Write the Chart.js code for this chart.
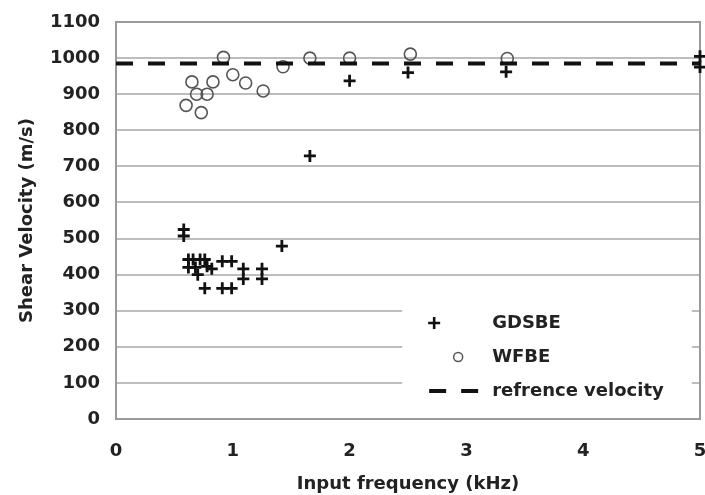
<!DOCTYPE html>
<html>
<head>
<meta charset="utf-8">
<script src="https://cdn.jsdelivr.net/npm/chart.js@4/dist/chart.umd.min.js"></script>
<style>
  html, body { margin: 0; padding: 0; background: #fff; }
  #wrap { width: 705px; height: 495px; position: relative; }
</style>
</head>
<body>
<div id="wrap"><canvas id="shearChart"></canvas></div>
<script>
// frequency (kHz) / shear velocity (m/s)
const gdsbeFreq = [0.58, 0.58, 0.62, 0.62, 0.66, 0.68, 0.70, 0.72, 0.76, 0.78, 0.82, 0.76, 0.91, 0.99, 0.91, 0.99, 1.09, 1.09, 1.25, 1.25, 1.42, 1.66, 2.00, 2.50, 3.34, 5.00, 5.00];
const gdsbeVel  = [525, 507, 442, 420, 442, 420, 400, 442, 442, 423, 416, 362, 437, 437, 362, 362, 416, 388, 416, 388, 479, 729, 937, 960, 962, 1005, 975];
const wfbeFreq = [0.60, 0.65, 0.69, 0.73, 0.78, 0.83, 0.92, 1.00, 1.11, 1.26, 1.43, 1.66, 2.00, 2.52, 3.35];
const wfbeVel  = [869, 934, 900, 849, 900, 934, 1002, 954, 931, 909, 976, 1000, 1000, 1011, 999];
const refFreq = [0, 5];
const refVel  = [985, 985];
const xTicks = [0, 1, 2, 3, 4, 5];
const seriesLabels = ['GDSBE', 'WFBE', 'refrence velocity'];

const FONT = 'DejaVu Sans';
const toPts = (xs, ys) => xs.map((x, i) => ({ x: x, y: ys[i] }));

// frame + legend box drawn on the canvas
const framePlugin = {
    id: 'frame',
    beforeDatasetsDraw(chart) {
        const a = chart.chartArea, c = chart.ctx;
        c.save();
        c.strokeStyle = '#9a9a9a';
        c.lineWidth = 2;
        c.strokeRect(a.left, a.top, a.right - a.left, a.bottom - a.top);
        c.restore();
    },
    afterDatasetsDraw(chart) {
        const c = chart.ctx, xs = chart.scales.x, ys = chart.scales.y;
        const bx = xs.getPixelForValue(2.45), by = ys.getPixelForValue(360);
        const bw = xs.getPixelForValue(4.93) - bx, bh = ys.getPixelForValue(25) - by;
        c.save();
        c.fillStyle = '#fff';
        c.fillRect(bx, by, bw, bh);
        const rows = [by + 34, by + 68, by + 102];
        const tx = bx + 90;
        // GDSBE cross
        c.strokeStyle = '#111'; c.lineWidth = 2.6;
        c.beginPath();
        c.moveTo(bx + 26, rows[0]); c.lineTo(bx + 38, rows[0]);
        c.moveTo(bx + 32, rows[0] - 6); c.lineTo(bx + 32, rows[0] + 6);
        c.stroke();
        // WFBE circle
        c.strokeStyle = '#555'; c.lineWidth = 1.5;
        c.beginPath(); c.arc(bx + 56, rows[1], 4.5, 0, Math.PI * 2); c.stroke();
        // dashed
        c.strokeStyle = '#111'; c.lineWidth = 4;
        c.setLineDash([17, 15]);
        c.beginPath(); c.moveTo(bx + 27, rows[2]); c.lineTo(bx + 78, rows[2]); c.stroke();
        c.setLineDash([]);
        c.fillStyle = '#222';
        c.font = 'bold 18px "' + FONT + '"';
        c.textBaseline = 'middle';
        seriesLabels.forEach((t, i) => c.fillText(t, tx, rows[i]));
        c.restore();
    }
};

new Chart(document.getElementById('shearChart'), {
    type: 'scatter',
    data: {
        datasets: [
            { label: seriesLabels[2], data: toPts(refFreq, refVel), showLine: true, borderColor: '#111', borderWidth: 4, borderDash: [17, 15], pointRadius: 0, clip: false },
            { label: seriesLabels[0], data: toPts(gdsbeFreq, gdsbeVel), pointStyle: 'cross', pointRadius: 6, borderColor: '#111', borderWidth: 2.8, clip: false },
            { label: seriesLabels[1], data: toPts(wfbeFreq, wfbeVel), pointStyle: 'circle', pointRadius: 6, borderColor: '#555', backgroundColor: 'rgba(255,255,255,0)', borderWidth: 1.6, clip: false }
        ]
    },
    options: {
        responsive: true,
        maintainAspectRatio: false,
        animation: false,
        layout: { autoPadding: false, padding: { top: 22, right: 5, left: 0, bottom: 0 } },
        plugins: { legend: { display: false }, tooltip: { enabled: false } },
        scales: {
            x: {
                type: 'linear', min: 0, max: 5,
                afterBuildTicks: s => { s.ticks = xTicks.map(v => ({ value: v })); },
                grid: { display: false },
                border: { display: false },
                ticks: { color: '#222', padding: 14, font: { family: FONT, size: 18, weight: 'bold' } },
                title: { display: true, text: 'Input frequency (kHz)', color: '#222', padding: { top: 8, bottom: 0 }, font: { family: FONT, size: 18, weight: 'bold' } },
                afterFit: s => { s.height = 76; s.paddingRight = 0; s.paddingLeft = 0; }
            },
            y: {
                min: 0, max: 1100,
                ticks: { stepSize: 100, color: '#222', padding: 16, callback: v => String(v), font: { family: FONT, size: 18, weight: 'bold' } },
                grid: { color: '#bdbdbd', lineWidth: 2, drawTicks: false },
                border: { display: false },
                title: { display: true, text: 'Shear Velocity (m/s)', color: '#222', padding: { top: 17, bottom: 4 }, font: { family: FONT, size: 18, weight: 'bold' } },
                afterFit: s => { s.width = 116; s.paddingTop = 0; s.paddingBottom = 0; }
            }
        }
    },
    plugins: [framePlugin]
});
</script>
</body>
</html>
